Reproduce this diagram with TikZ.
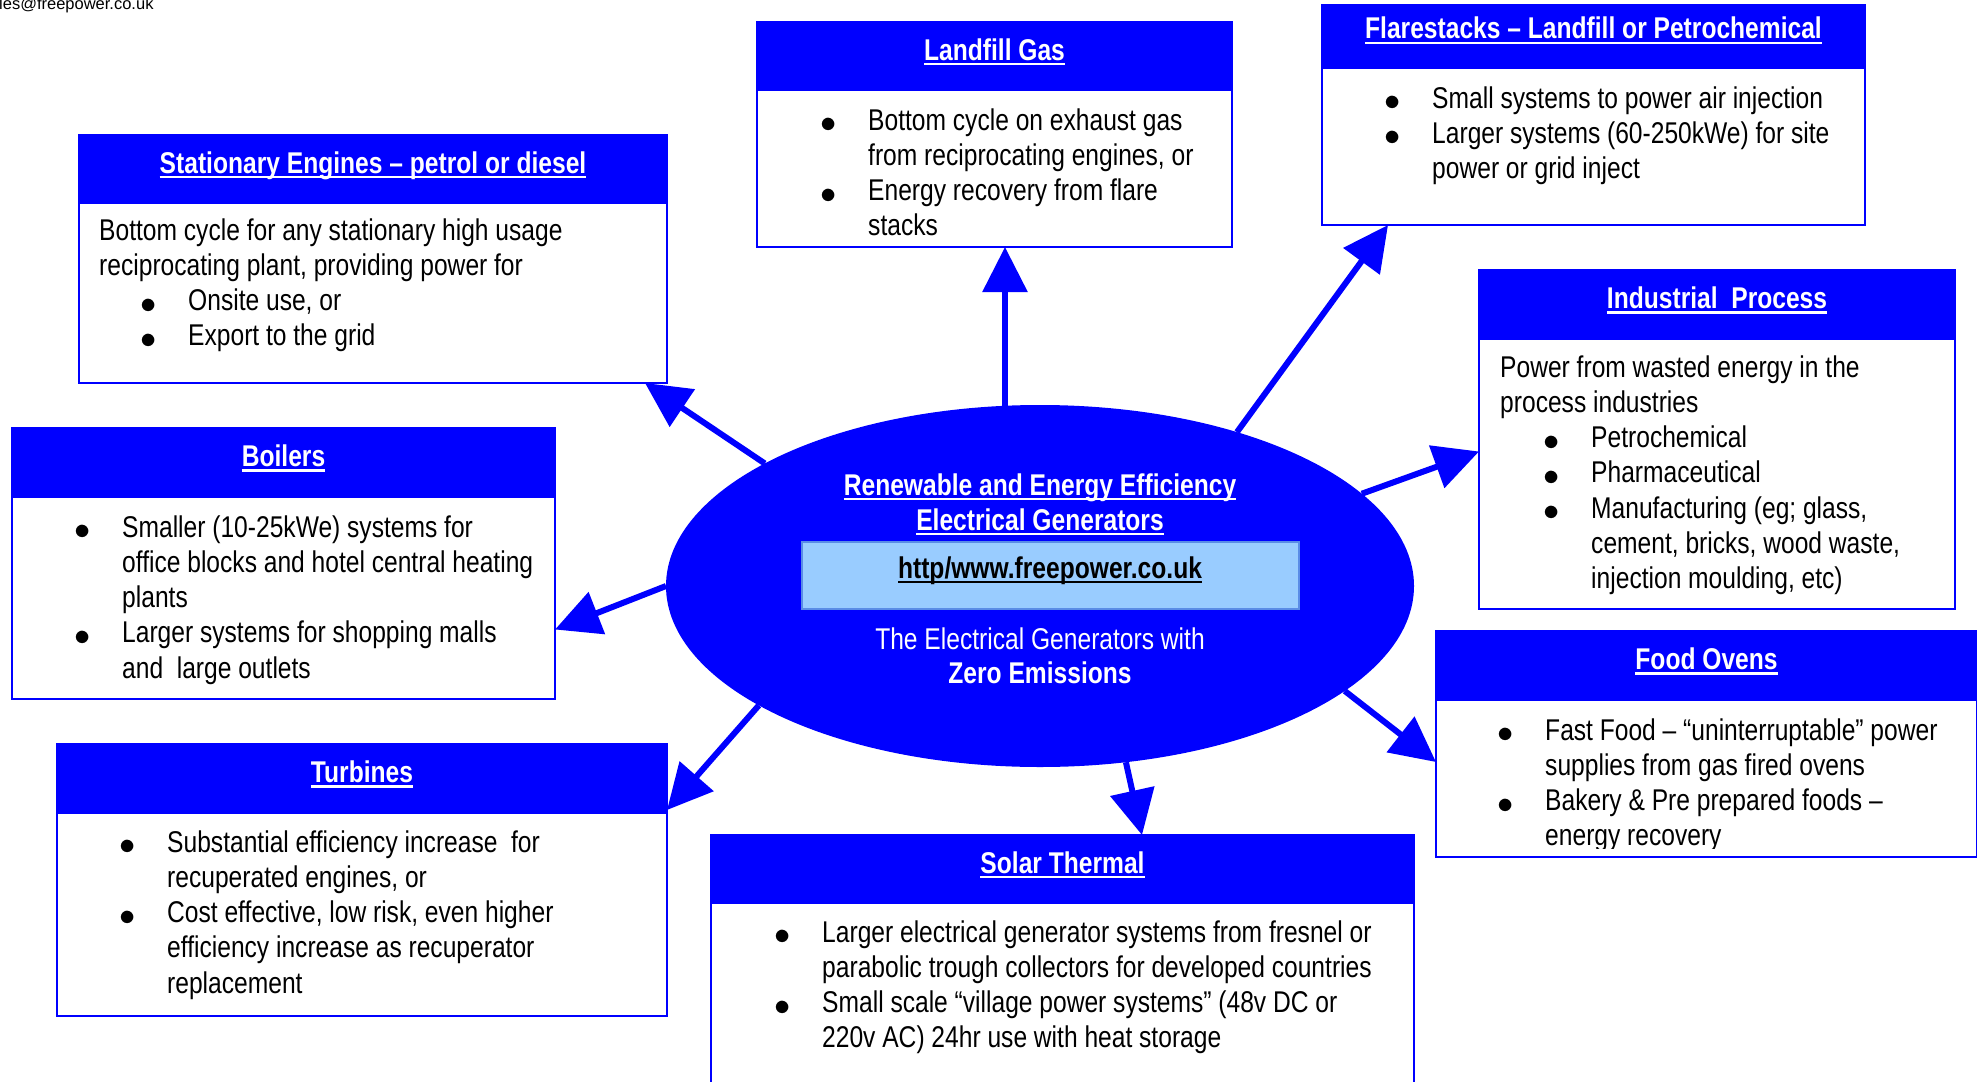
\documentclass[tikz,border=0pt]{standalone}
\usepackage{graphicx}
\usepackage{fontspec}
\setmainfont{Liberation Sans}[FakeStretch=0.82]
\newfontfamily\mailfont{Liberation Sans}
\usetikzlibrary{arrows.meta,shapes.geometric}
\setlength\parindent{0pt}
\definecolor{urlfill}{RGB}{153,204,255}
\definecolor{urlline}{RGB}{90,140,230}
\newcommand\bodyfont{\fontsize{30}{35.2}\selectfont}
\newcommand\uln[1]{\mbox{\setbox0=\hbox{#1}\rlap{\rule[-5.3pt]{\wd0}{2.5pt}}\box0}}
\newcommand\bl[1][0pt]{\hspace*{#1}\makebox[44pt][l]{\hspace*{-4pt}\raisebox{-2.5pt}{\scalebox{1.3}{$\bullet$}}}}
\newcommand\ct[1][0pt]{\hspace*{#1}\hspace*{44pt}}
\begin{document}
\begin{tikzpicture}[x=1pt,y=-1pt,
    box/.style={draw=blue,line width=2pt,fill=white,anchor=north west,inner sep=0pt,outer sep=0pt},
    hd/.style={box,fill=blue,text=white,font=\bodyfont\bfseries,text height=14pt,text depth=6pt},
    body/.style={anchor=north west,inner sep=0pt,text width=700pt,align=left,font=\bodyfont,
        execute at begin node={\noindent\spaceskip=6.8pt\xspaceskip=6.8pt\rule{0pt}{25pt}}},
    arr/.style={blue,line width=6pt,-{Triangle[length=45pt,width=44pt]}}]
    \useasboundingbox (0,0) rectangle (1977,1081);
    \node[anchor=base west,inner sep=0pt,font=\mailfont\fontsize{16.5}{18}\selectfont] (mail) at (-1,10) {les@freepower.co.uk};
    % centre
    \node[ellipse,fill=blue,minimum width=748pt,minimum height=362pt,inner sep=0pt,outer sep=0pt] (ell) at (1040,586) {};
    \node[draw=urlline,fill=urlfill,line width=1.5pt,minimum width=497pt,minimum height=67pt,inner sep=0pt] (urlbox) at (1050.5,575.5) {};
    \path[font=\bodyfont]
    (1040,495) node[anchor=base,text=white] (ttla) {\bfseries\uln{Renewable and Energy Efficiency}}
    (1040,530) node[anchor=base,text=white] (ttlb) {\bfseries\uln{Electrical Generators}}
    (1050,578) node[anchor=base] (url) {\bfseries\uln{http/www.freepower.co.uk}}
    (1040,649) node[anchor=base,text=white] (suba) {The Electrical Generators with}
    (1040,683) node[anchor=base,text=white] (subb) {\bfseries Zero Emissions};
    % stationary engines
    \path
    (79,135) node[box,minimum width=588pt,minimum height=248pt] (stat) {}
    (79,135) node[hd,minimum width=588pt,minimum height=68pt] (stathd) {\uln{Stationary Engines – petrol or diesel}}
    (99,215) node[body] (stattxt) {Bottom cycle for any stationary high usage\\
        reciprocating plant, providing power for\\
        \bl[45pt]Onsite use, or\\
        \bl[45pt]Export to the grid};
    % landfill gas
    \path
    (757,22) node[box,minimum width=475pt,minimum height=225pt] (land) {}
    (757,22) node[hd,minimum width=475pt,minimum height=68pt] (landhd) {\uln{Landfill Gas}}
    (824,105) node[body] (landtxt) {\bl Bottom cycle on exhaust gas\\
        \ct from reciprocating engines, or\\
        \bl Energy recovery from flare\\
        \ct stacks};
    % flarestacks
    \path
    (1322,5) node[box,minimum width=543pt,minimum height=220pt] (flare) {}
    (1322,5) node[hd,minimum width=543pt,minimum height=63pt,text depth=9pt] (flarehd) {\uln{Flarestacks – Landfill or Petrochemical}}
    (1388,83) node[body] (flaretxt) {\bl Small systems to power air injection\\
        \bl Larger systems (60-250kWe) for site\\
        \ct power or grid inject};
    % industrial process
    \path
    (1479,270) node[box,minimum width=476pt,minimum height=339pt] (indus) {}
    (1479,270) node[hd,minimum width=476pt,minimum height=69pt] (indushd) {\uln{Industrial\ \ Process}}
    (1500,352) node[body] (industxt) {Power from wasted energy in the\\
        process industries\\
        \bl[47pt]Petrochemical\\
        \bl[47pt]Pharmaceutical\\
        \bl[47pt]Manufacturing (eg; glass,\\
        \ct[47pt]cement, bricks, wood waste,\\
        \ct[47pt]injection moulding, etc)};
    % boilers
    \path
    (12,428) node[box,minimum width=543pt,minimum height=271pt] (boil) {}
    (12,428) node[hd,minimum width=543pt,minimum height=69pt] (boilhd) {\uln{Boilers}}
    (78,512) node[body] (boiltxt) {\bl Smaller (10-25kWe) systems for\\
        \ct office blocks and hotel central heating\\
        \ct plants\\
        \bl Larger systems for shopping malls\\
        \ct and\ \ large outlets};
    % turbines
    \path
    (57,744) node[box,minimum width=610pt,minimum height=272pt] (turb) {}
    (57,744) node[hd,minimum width=610pt,minimum height=69pt] (turbhd) {\uln{Turbines}}
    (123,827) node[body] (turbtxt) {\bl Substantial efficiency increase\ \ for\\
        \ct recuperated engines, or\\
        \bl Cost effective, low risk, even higher\\
        \ct efficiency increase as recuperator\\
        \ct replacement};
    % food ovens
    \path
    (1436,631) node[box,minimum width=541pt,minimum height=226pt] (food) {}
    (1436,631) node[hd,minimum width=541pt,minimum height=69pt] (foodhd) {\uln{Food Ovens}};
    \begin{scope}
        \clip (food.north west) rectangle ([yshift=9pt]food.south east);
        \node[body] (foodtxt) at (1501,715) {\bl Fast Food – “uninterruptable” power\\
            \ct supplies from gas fired ovens\\
            \bl Bakery \& Pre prepared foods –\\
            \ct energy recovery};
    \end{scope}
    % solar thermal
    \path
    (711,835) node[box,minimum width=703pt,minimum height=265pt] (solar) {}
    (711,835) node[hd,minimum width=703pt,minimum height=68pt] (solarhd) {\uln{Solar Thermal}}
    (778,917) node[body] (solartxt) {\bl Larger electrical generator systems from fresnel or\\
        \ct parabolic trough collectors for developed countries\\
        \bl Small scale “village power systems” (48v DC or\\
        \ct 220v AC) 24hr use with heat storage};
    % arrows
    \begin{scope}[arr]
        \draw (ell.156) -- ([xshift=-22pt]stat.south east);
        \draw (ell.101) -- (ell.101 |- land.south);
        \draw (ell.38) -- ([xshift=66pt]flare.south west);
        \draw (ell.16) -- ([yshift=-12pt]indus.west);
        \draw (ell.341) -- ([yshift=-18pt]food.west);
        \draw (ell.296) -- ([xshift=431pt]solar.north west);
        \draw (ell.203) -- ([yshift=3pt]turbhd.south east);
        \draw (ell.180) -- ([yshift=-66pt]boil.east);
    \end{scope}
\end{tikzpicture}
\end{document}
